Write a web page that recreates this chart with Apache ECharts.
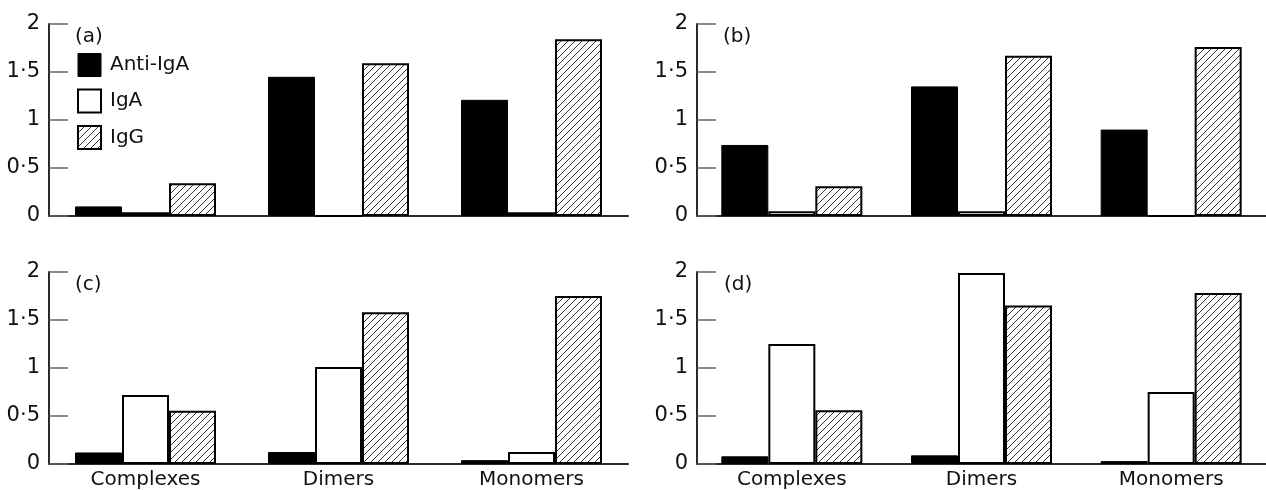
<!DOCTYPE html>
<html>
<head>
<meta charset="utf-8">
<script src="https://cdn.jsdelivr.net/npm/echarts@6/dist/echarts.min.js"></script>
<style>html,body{margin:0;padding:0;background:#fff}#c{width:1266px;height:490px}</style>
</head>
<body>
<div id="c"></div>
<script>
const categories = ['Complexes', 'Dimers', 'Monomers'];
const seriesNames = ['Anti-IgA', 'IgA', 'IgG'];
const panelLabels = ['(a)', '(b)', '(c)', '(d)'];
const yTickLabels = ['0', '0·5', '1', '1·5', '2'];

const antiIgA_a = [0.10, 1.45, 1.21];
const igA_a     = [0.04, 0, 0.04];
const igG_a     = [0.34, 1.59, 1.84];

const antiIgA_b = [0.74, 1.35, 0.90];
const igA_b     = [0.05, 0.05, 0];
const igG_b     = [0.31, 1.67, 1.76];

const antiIgA_c = [0.12, 0.125, 0.04];
const igA_c     = [0.72, 1.01, 0.125];
const igG_c     = [0.555, 1.58, 1.75];

const antiIgA_d = [0.08, 0.09, 0.03];
const igA_d     = [1.25, 1.99, 0.75];
const igG_d     = [0.56, 1.65, 1.78];

const panels = [
  [antiIgA_a, igA_a, igG_a],
  [antiIgA_b, igA_b, igG_b],
  [antiIgA_c, igA_c, igG_c],
  [antiIgA_d, igA_d, igG_d]
];

function hatch() {
  const s = 7;
  const c = document.createElement('canvas');
  c.width = s; c.height = s;
  const g = c.getContext('2d');
  g.fillStyle = '#fff'; g.fillRect(0, 0, s, s);
  g.strokeStyle = '#333'; g.lineWidth = 1;
  g.beginPath();
  g.moveTo(0, s); g.lineTo(s, 0);
  g.moveTo(-1, 1); g.lineTo(1, -1);
  g.moveTo(s - 1, s + 1); g.lineTo(s + 1, s - 1);
  g.stroke();
  return c;
}
const hatchColor = { image: hatch(), repeat: 'repeat' };

const FONT = 'DejaVu Sans';
const styles = [
  { color: '#000', borderColor: '#000', borderWidth: 1 },
  { color: '#fff', borderColor: '#000', borderWidth: 2 },
  { color: hatchColor, borderColor: '#000', borderWidth: 2 }
];

const grids = [
  { left: 49, top: 24, width: 579, height: 192 },
  { left: 697, top: 24, width: 577, height: 192 },
  { left: 49, top: 272, width: 579, height: 192 },
  { left: 697, top: 272, width: 577, height: 192 }
];
const labelPos = [
  { left: 75, top: 27 }, { left: 723, top: 27 },
  { left: 75, top: 275 }, { left: 724, top: 275 }
];

const option = {
  animation: false,
  backgroundColor: '#fff',
  title: panelLabels.map((t, i) => ({
    text: t, left: labelPos[i].left, top: labelPos[i].top, padding: 0,
    textStyle: { fontFamily: FONT, fontSize: 20, fontWeight: 'normal', color: '#111' }
  })),
  legend: {
    orient: 'vertical', left: 77, top: 53, itemWidth: 23, itemHeight: 23, itemGap: 11.5,
    padding: 0, selectedMode: false,
    textStyle: { fontFamily: FONT, fontSize: 20, color: '#111', padding: [0, 0, 0, 4] },
    data: seriesNames.map((n, i) => ({ name: n, icon: 'rect', itemStyle: styles[i] }))
  },
  grid: grids,
  xAxis: grids.map((g, i) => ({
    type: 'category', gridIndex: i, data: categories,
    axisTick: { show: false },
    axisLine: { lineStyle: { color: '#2a2a2a', width: 2 } },
    axisLabel: { show: i >= 2, fontFamily: FONT, fontSize: 20, color: '#111', margin: 6 },
    splitLine: { show: false }
  })),
  yAxis: grids.map((g, i) => ({
    type: 'value', gridIndex: i, min: 0, max: 2, interval: 0.5,
    axisLine: { show: true, lineStyle: { color: '#2a2a2a', width: 2 } },
    axisTick: { show: true, inside: true, length: 19, lineStyle: { color: '#666', width: 1.5 } },
    axisLabel: {
      fontFamily: FONT, fontSize: 21, color: '#111', margin: 9,
      formatter: v => yTickLabels[Math.round(v / 0.5)]
    },
    splitLine: { show: false }
  })),
  series: []
};

panels.forEach((vals, p) => {
  vals.forEach((arr, s) => {
    option.series.push({
      type: 'bar', name: seriesNames[s], xAxisIndex: p, yAxisIndex: p,
      data: arr, barWidth: 47, barGap: '0%',
      itemStyle: styles[s]
    });
  });
});

const chart = echarts.init(document.getElementById('c'), null, { renderer: 'canvas' });
chart.setOption(option);
</script>
</body>
</html>
